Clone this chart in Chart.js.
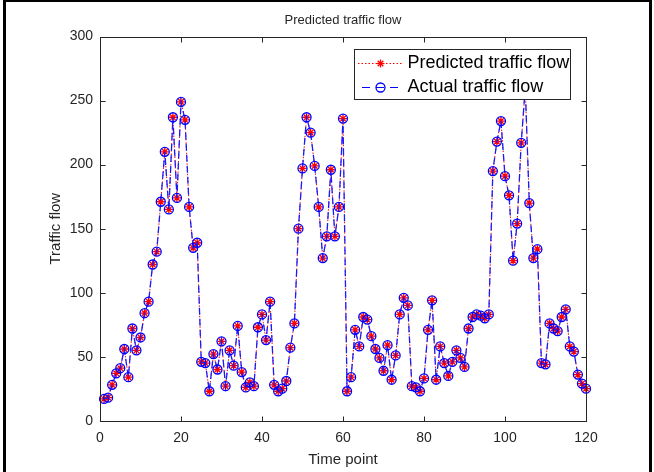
<!DOCTYPE html>
<html>
<head>
<meta charset="utf-8">
<style>
html,body{margin:0;padding:0;background:#fff;}
#wrap{position:relative;width:654px;height:472px;}
canvas{display:block;}
</style>
<script src="https://cdn.jsdelivr.net/npm/chart.js@4.4.1/dist/chart.umd.min.js"></script>
</head>
<body>
<div id="wrap"><canvas id="c" width="654" height="472"></canvas></div>
<script>
const chartTitle = 'Predicted traffic flow';
const xLabel = 'Time point';
const yLabel = 'Traffic flow';
const seriesNames = ['Predicted traffic flow', 'Actual traffic flow'];

const timePoints = [
  1,2,3,4,5,6,7,8,9,10,11,12,13,14,15,16,17,18,19,20,
  21,22,23,24,25,26,27,28,29,30,31,32,33,34,35,36,37,38,39,40,
  41,42,43,44,45,46,47,48,49,50,51,52,53,54,55,56,57,58,59,60,
  61,62,63,64,65,66,67,68,69,70,71,72,73,74,75,76,77,78,79,80,
  81,82,83,84,85,86,87,88,89,90,91,92,93,94,95,96,97,98,99,100,
  101,102,103,104,105,106,107,108,109,110,111,112,113,114,115,116,117,118,119,120
];

const actualFlow = [
  17,18,28,37,41,56,34,72,55,65,84,93,122,132,171,210,165,237,174,249,
  235,167,135,139,46,45,23,52,40,62,27,55,43,74,38,26,30,27,73,83,
  63,93,28,23,25,31,57,76,150,197,237,225,199,167,127,144,196,144,167,236,
  23,34,71,58,81,79,66,56,49,39,59,32,51,83,96,90,27,26,23,33,
  71,94,32,58,45,35,46,55,49,42,72,81,83,82,80,83,195,218,234,191,
  176,125,154,217,260,170,127,134,45,44,76,72,70,81,87,58,54,36,29,25
];

const predictedFlow = [
  17,18,28,37,41,56,34,72,55,65,84,93,122,132,171,210,165,237,174,249,
  235,167,135,139,46,45,23,52,40,62,27,55,43,74,38,26,30,27,73,83,
  63,93,28,23,25,31,57,76,150,197,237,225,199,167,127,144,196,144,167,236,
  23,34,71,58,81,79,66,56,49,39,59,32,51,83,96,90,27,26,23,33,
  71,94,32,58,45,35,46,55,49,42,72,81,83,82,80,83,195,218,234,191,
  176,125,154,217,260,170,127,134,45,44,76,72,70,81,87,58,54,36,29,25
];

const xTicks = [0,20,40,60,80,100,120];
const yTicks = [0,50,100,150,200,250,300];

const AXIS = '#262626';
const FONT = "'Liberation Sans', Arial, Helvetica, sans-serif";

const predictedPts = timePoints.map((t, i) => ({x: t, y: predictedFlow[i]}));
const actualPts = timePoints.map((t, i) => ({x: t, y: actualFlow[i]}));

function line(ctx, x1, y1, x2, y2) {
  ctx.beginPath(); ctx.moveTo(x1, y1); ctx.lineTo(x2, y2); ctx.stroke();
}

const decorPlugin = {
  id: 'decor',
  afterDatasetsDraw(chart) {
    const {ctx, chartArea: a, scales} = chart;
    const xs = scales.x, ys = scales.y;
    ctx.save();
    ctx.setLineDash([]);
    ctx.strokeStyle = AXIS;
    ctx.lineWidth = 1;
    const L = Math.round(a.left) + 0.5, R = Math.round(a.right) + 0.5;
    const T = Math.round(a.top) + 0.5, B = Math.round(a.bottom) + 0.5;
    ctx.strokeRect(L, T, R - L, B - T);
    const tl = 5;
    xTicks.forEach(v => {
      const px = Math.round(xs.getPixelForValue(v)) + 0.5;
      line(ctx, px, B, px, B - tl);
      line(ctx, px, T, px, T + tl);
    });
    yTicks.forEach(v => {
      const py = Math.round(ys.getPixelForValue(v)) + 0.5;
      line(ctx, L, py, L + tl, py);
      line(ctx, R, py, R - tl, py);
    });

    // legend box (inside axes, top-right, like MATLAB)
    const bx = 354.5, by = 49.5, bw = 216, bh = 50;
    ctx.fillStyle = '#ffffff';
    ctx.fillRect(bx, by, bw, bh);
    ctx.strokeStyle = AXIS;
    ctx.strokeRect(bx, by, bw, bh);
    const r1 = 63.5, r2 = 87.5, mx = 380.5;
    // row 1: red dotted + star
    ctx.strokeStyle = '#ff0000';
    ctx.lineWidth = 1;
    ctx.setLineDash([1.5, 2]);
    line(ctx, 358, r1, 403, r1);
    ctx.setLineDash([]);
    ctx.lineWidth = 1.3;
    const sr = 4;
    for (let k = 0; k < 4; k++) {
      const ang = k * Math.PI / 4;
      line(ctx, mx - sr * Math.cos(ang), r1 - sr * Math.sin(ang), mx + sr * Math.cos(ang), r1 + sr * Math.sin(ang));
    }
    // row 2: blue dashed + circle
    ctx.strokeStyle = '#0000ff';
    ctx.lineWidth = 1.2;
    ctx.setLineDash([8, 6]);
    line(ctx, 362, r2, 400, r2);
    ctx.setLineDash([]);
    ctx.lineWidth = 1.3;
    ctx.beginPath(); ctx.arc(mx, r2, 4.5, 0, Math.PI * 2); ctx.stroke();
    // texts
    ctx.fillStyle = '#000000';
    ctx.font = "18px " + FONT;
    ctx.textAlign = 'left';
    ctx.textBaseline = 'middle';
    ctx.fillText(seriesNames[0], 407.5, r1);
    ctx.fillText(seriesNames[1], 407.5, r2);
    ctx.restore();
  },
  afterDraw(chart) {
    const {ctx} = chart;
    ctx.save();
    ctx.fillStyle = '#000000';
    ctx.fillRect(3, 0, 3, 472);
    ctx.fillRect(649, 0, 3, 472);
    ctx.fillRect(3, 0, 649, 2);
    ctx.restore();
  }
};

new Chart(document.getElementById('c'), {
  type: 'line',
  data: {
    datasets: [
      {
        label: seriesNames[0],
        data: predictedPts,
        order: 1,
        clip: false,
        borderColor: '#ff0000',
        borderWidth: 1,
        borderDash: [1.5, 2],
        pointStyle: 'star',
        pointRadius: 4,
        pointBorderColor: '#ff0000',
        pointBackgroundColor: '#ff0000',
        pointBorderWidth: 1.3,
        tension: 0,
        fill: false
      },
      {
        label: seriesNames[1],
        data: actualPts,
        order: 0,
        clip: false,
        borderColor: '#1a1aff',
        borderWidth: 1.3,
        borderDash: [7, 4],
        pointStyle: 'circle',
        pointRadius: 4.5,
        pointBorderColor: '#0000ff',
        pointBackgroundColor: 'rgba(0,0,0,0)',
        pointBorderWidth: 1.3,
        tension: 0,
        fill: false
      }
    ]
  },
  options: {
    responsive: false,
    animation: false,
    events: [],
    devicePixelRatio: 1,
    layout: {padding: {left: 0, right: 68, top: 0, bottom: 0}},
    plugins: {
      legend: {display: false},
      tooltip: {enabled: false},
      title: {
        display: true,
        text: chartTitle,
        fullSize: false,
        color: AXIS,
        font: {family: FONT, size: 13, weight: 'normal', lineHeight: 1.2},
        padding: {top: 13, bottom: 8}
      }
    },
    scales: {
      x: {
        type: 'linear',
        min: 0, max: 120,
        afterBuildTicks: s => { s.ticks = xTicks.map(v => ({value: v})); },
        afterFit: s => { s.height = 51.3; },
        grid: {display: true, drawOnChartArea: false, drawTicks: false},
        border: {display: false},
        ticks: {color: AXIS, padding: 9, maxRotation: 0, font: {family: FONT, size: 14}},
        title: {display: true, text: xLabel, color: AXIS, font: {family: FONT, size: 15, lineHeight: 1.2}, padding: {top: 0, bottom: 3}}
      },
      y: {
        type: 'linear',
        min: 0, max: 300,
        afterBuildTicks: s => { s.ticks = yTicks.map(v => ({value: v})); },
        afterFit: s => { s.width = 100; },
        grid: {display: true, drawOnChartArea: false, drawTicks: false},
        border: {display: false},
        ticks: {color: AXIS, padding: 7, font: {family: FONT, size: 14}},
        title: {display: true, text: yLabel, color: AXIS, font: {family: FONT, size: 15, lineHeight: 1.2}, padding: {top: 47, bottom: 0}}
      }
    }
  },
  plugins: [decorPlugin]
});
</script>
</body>
</html>
